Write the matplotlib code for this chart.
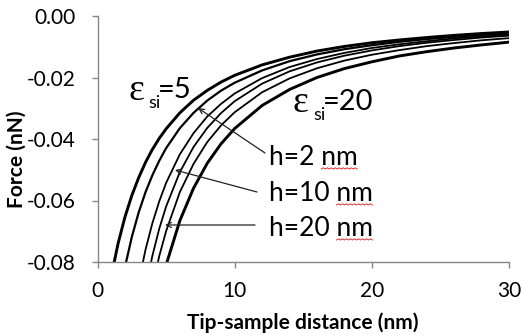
import numpy as np
import matplotlib
matplotlib.use("Agg")
import matplotlib.pyplot as plt
from matplotlib.lines import Line2D

plt.rcParams['font.family'] = ['Lato', 'DejaVu Sans']

nan = np.nan
# Tip-sample distance (nm)
distance_nm = [1, 1.5, 2, 2.5, 3, 3.5, 4, 4.5, 5, 6, 7, 8, 9, 10,
               12, 14, 16, 18, 20, 22, 24, 26, 28, 30]
# Force (nN), six curves (left to right)
force_1 = [-0.0846, -0.0740, -0.0654, -0.0584, -0.0526, -0.0476, -0.0434, -0.0398,
           -0.0367, -0.0315, -0.0274, -0.0242, -0.0215, -0.0193, -0.0159, -0.0134,
           -0.0114, -0.0099, -0.0087, -0.0078, -0.0070, -0.0063, -0.0057, -0.0052]
force_2 = [nan, -0.0939, -0.0817, -0.0719, -0.0639, -0.0573, -0.0518, -0.0471,
           -0.0430, -0.0365, -0.0315, -0.0275, -0.0243, -0.0217, -0.0177, -0.0147,
           -0.0125, -0.0108, -0.0095, -0.0084, -0.0075, -0.0068, -0.0061, -0.0056]
force_3 = [nan, nan, nan, -0.1001, -0.0867, -0.0760, -0.0674, -0.0603,
           -0.0543, -0.0450, -0.0381, -0.0327, -0.0286, -0.0252, -0.0202, -0.0166,
           -0.0140, -0.0120, -0.0104, -0.0092, -0.0082, -0.0073, -0.0066, -0.0060]
force_4 = [nan, nan, nan, nan, -0.1023, -0.0888, -0.0780, -0.0692,
           -0.0620, -0.0508, -0.0426, -0.0364, -0.0316, -0.0277, -0.0220, -0.0180,
           -0.0151, -0.0129, -0.0112, -0.0098, -0.0087, -0.0078, -0.0070, -0.0064]
force_5 = [nan, nan, nan, nan, nan, -0.1003, -0.0881, -0.0781,
           -0.0700, -0.0573, -0.0481, -0.0410, -0.0356, -0.0313, -0.0248, -0.0203,
           -0.0170, -0.0145, -0.0126, -0.0111, -0.0098, -0.0088, -0.0079, -0.0072]
force_6 = [nan, nan, nan, nan, nan, nan, nan, -0.0903,
           -0.0810, -0.0666, -0.0560, -0.0479, -0.0416, -0.0366, -0.0291, -0.0239,
           -0.0200, -0.0171, -0.0149, -0.0130, -0.0116, -0.0104, -0.0094, -0.0085]

x_ticks = [0, 10, 20, 30]
y_ticks = [0.00, -0.02, -0.04, -0.06, -0.08]

curves = [force_1, force_2, force_3, force_4, force_5, force_6]
widths = [2.1, 1.6, 1.3, 1.3, 1.3, 2.1]

W, H = 522, 336
fig = plt.figure(figsize=(W / 100, H / 100), dpi=100)
ax = fig.add_axes([97.5 / W, 1 - 262 / H, (509 - 97.5) / W, (262 - 16) / H])

for f, lw in zip(curves, widths):
    ax.plot(distance_nm, f, color='black', lw=lw, solid_joinstyle='round')

ax.set_xlim(0, 30)
ax.set_ylim(-0.08, 0.0)
ax.set_xticks(x_ticks)
ax.set_xticklabels([str(v) for v in x_ticks])
ax.set_yticks(y_ticks)
ax.set_yticklabels(['%.2f' % v if v != 0 else '0.00' for v in y_ticks])

grey = '#868686'
for s in ['top', 'right']:
    ax.spines[s].set_visible(False)
for s in ['left', 'bottom']:
    ax.spines[s].set_color(grey)
    ax.spines[s].set_linewidth(1.0)
ax.tick_params(axis='both', direction='out', length=4.5, width=1.0, color=grey,
               labelsize=15, labelcolor='black')
ax.tick_params(axis='y', pad=11)
ax.tick_params(axis='x', pad=9)

fig.text(17 / W, 1 - 159 / H, 'Force (nN)', rotation=90, ha='center', va='center',
         fontsize=15, fontweight='bold')
fig.text(303 / W, 1 - 323 / H, 'Tip-sample distance (nm)', ha='center', va='center',
         fontsize=15, fontweight='bold')

# epsilon labels
def eps_label(x0, base, value):
    fig.text(x0 / W, (H - base) / H, 'ε', fontfamily='Liberation Serif', fontsize=27,
             ha='left', va='baseline')
    fig.text((x0 + 20) / W, (H - base - 8) / H, 'si', fontsize=13,
             ha='left', va='baseline')
    fig.text((x0 + 30) / W, (H - base + 2) / H, '=' + value, fontsize=21,
             ha='left', va='baseline')

eps_label(128, 100, '5')
eps_label(293, 112, '20')

# h labels with arrows
def px2data(px, py):
    x = (px - 97.5) / (509 - 97.5) * 30
    y = -(py - 16) / (262 - 16) * 0.08
    return x, y

h_labels = ['h=2 nm', 'h=10 nm', 'h=20 nm']
h_text_pos = [(269, 165), (269, 201), (269, 236)]
h_tail = [(265, 153), (257, 192), (255, 225)]
h_tip = [(198, 108), (175, 170), (165, 225)]
for lab, tp, tl, tip in zip(h_labels, h_text_pos, h_tail, h_tip):
    fig.text(tp[0] / W, (H - tp[1]) / H, lab, fontsize=19, ha='left', va='baseline')
    ax.annotate('', xy=px2data(*tip), xytext=px2data(*tl),
                arrowprops=dict(arrowstyle='->', color='#222222', lw=0.9,
                                shrinkA=0, shrinkB=0, mutation_scale=9))

# red spell-check underlines under "nm"
fig.canvas.draw()
renderer = fig.canvas.get_renderer()
for t in list(fig.texts):
    s = t.get_text()
    if s.startswith('h=') and s.endswith('nm'):
        bb = t.get_window_extent(renderer)
        tmp = fig.text(0, 0, s[:-2], fontsize=19)
        w_pre = tmp.get_window_extent(renderer).width
        tmp.remove()
        x0 = bb.x0 + w_pre
        x1 = bb.x1
        y0 = bb.y0 + 1
        xs = np.arange(x0, x1, 2.0)
        ys = y0 + np.where(np.arange(len(xs)) % 2 == 0, 0.0, 1.2)
        fig.add_artist(Line2D(xs, ys, transform=None, color='#e03030', lw=0.7))

fig.savefig('out.png', dpi=100)
